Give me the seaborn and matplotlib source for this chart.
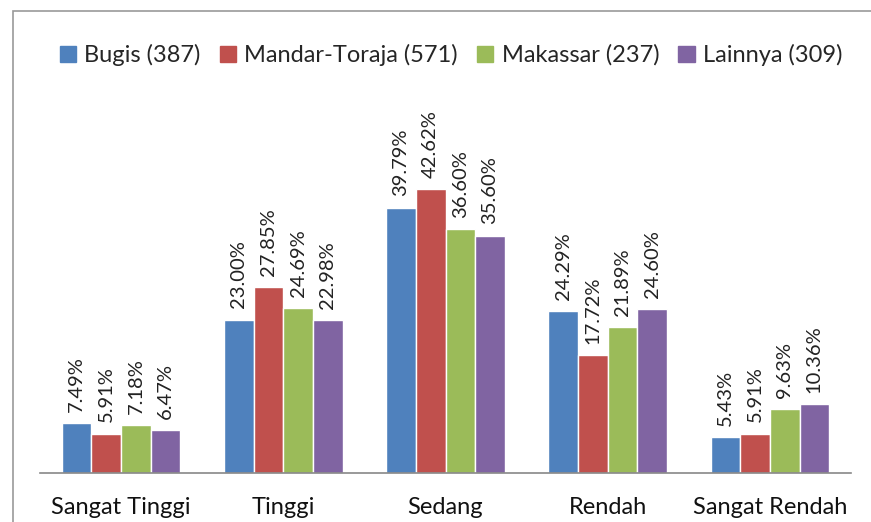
#!usr/bin/env python3
import pandas as pd
import seaborn as sns
import matplotlib.pyplot as plt
from matplotlib.patches import Rectangle

categories = ["Sangat Tinggi", "Tinggi", "Sedang", "Rendah", "Sangat Rendah"]
groups = ["Bugis (387)", "Mandar-Toraja (571)", "Makassar (237)", "Lainnya (309)"]
bugis = [7.49, 23.00, 39.79, 24.29, 5.43]
mandar_toraja = [5.91, 27.85, 42.62, 17.72, 5.91]
makassar = [7.18, 24.69, 36.60, 21.89, 9.63]
lainnya = [6.47, 22.98, 35.60, 24.60, 10.36]
colors = ["#4F81BD", "#C0504D", "#9BBB59", "#8064A2"]


def main():
    rows = []
    for g, vals in zip(groups, [bugis, mandar_toraja, makassar, lainnya]):
        for c, v in zip(categories, vals):
            rows.append({"kategori": c, "kelompok": g, "persen": v})
    df = pd.DataFrame(rows)

    sns.set_theme(style="white")
    plt.rcParams['font.family'] = ['Lato', 'DejaVu Sans']

    fig = plt.figure(figsize=(8.71, 5.22), dpi=100)
    ax = fig.add_axes([40 / 871, 49 / 522, 811 / 871, 333.5 / 522])

    sns.barplot(data=df, x="kategori", y="persen", hue="kelompok",
                order=categories, hue_order=groups, palette=colors,
                width=0.73, gap=0, saturation=1, ax=ax, legend=False)

    for cont in ax.containers:
        ax.bar_label(cont, labels=["{:.2f}%".format(v) for v in cont.datavalues],
                     rotation=90, padding=8, fontsize=14.5, color="#222222", clip_on=False)

    ax.set_xlim(-0.5, 4.5)
    ax.set_ylim(0, 50)
    ax.set_xlabel("")
    ax.set_ylabel("")
    ax.set_yticks([])
    ax.tick_params(axis="x", length=0, pad=17, labelsize=17, labelcolor="#111111")
    for s in ["top", "right", "left"]:
        ax.spines[s].set_visible(False)
    ax.spines["bottom"].set_color("#888888")
    ax.spines["bottom"].set_linewidth(1.2)

    # chart border (outer frame, only top/left visible in the crop)
    fig.patches.append(Rectangle((13 / 871, -0.1), 1.2, (511 / 522) + 0.1,
                                 transform=fig.transFigure, fill=False,
                                 edgecolor="#999999", linewidth=1.2))

    handles = [Rectangle((0, 0), 1, 1, color=c) for c in colors]
    fig.legend(handles, groups, ncol=4, loc="center", bbox_to_anchor=(451 / 871, 1 - 55 / 522),
               frameon=False, fontsize=17, handlelength=0.7, handleheight=0.7,
               handletextpad=0.35, columnspacing=0.8)

    fig.savefig("out.png", dpi=100)


if __name__ == "__main__": main()
